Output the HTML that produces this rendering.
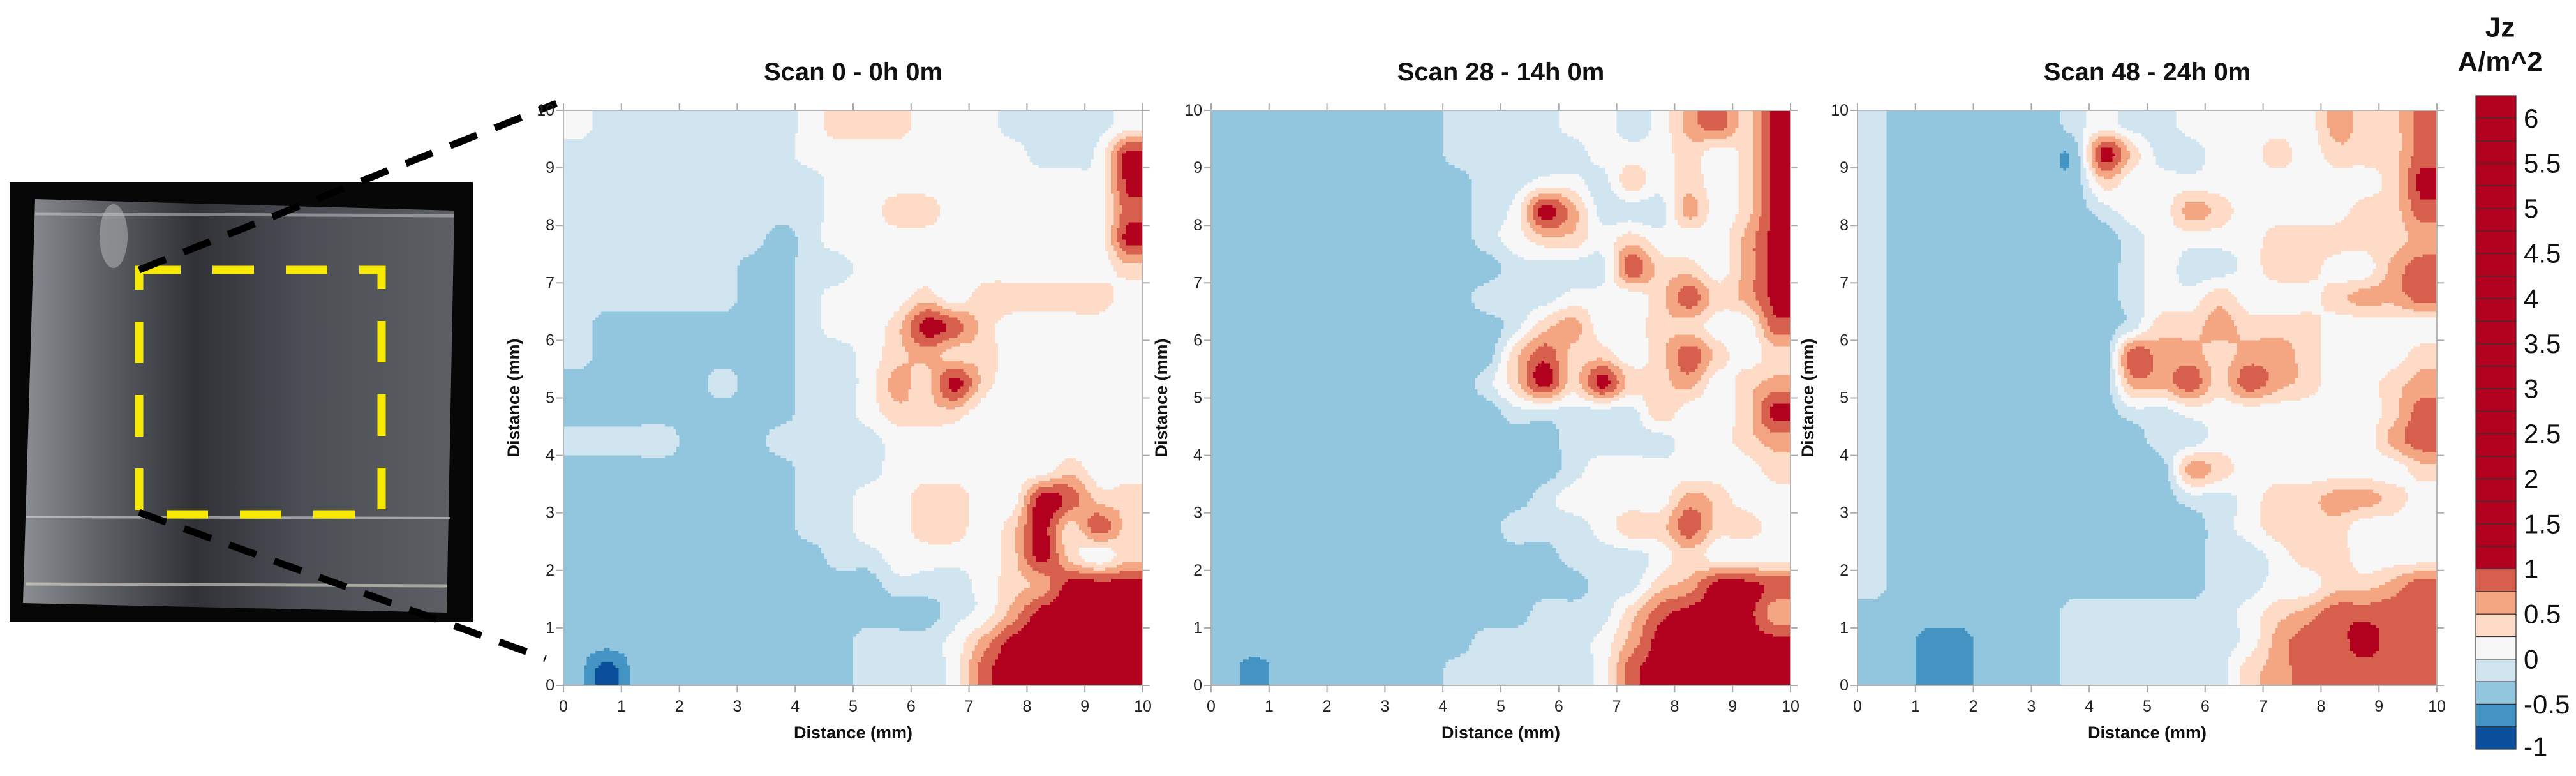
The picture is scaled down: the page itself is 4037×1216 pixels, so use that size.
<!DOCTYPE html>
<html><head><meta charset="utf-8"><style>
html,body{margin:0;padding:0;background:#fff;}
svg{display:block;font-family:"Liberation Sans",Arial,sans-serif;}
</style></head><body>
<svg id="fig" width="4037" height="1216" viewBox="0 0 4037 1216" xmlns="http://www.w3.org/2000/svg">
<defs>
<linearGradient id="acr" x1="0" y1="0" x2="1" y2="0">
<stop offset="0" stop-color="#8a8d91"/><stop offset="0.15" stop-color="#64676c"/><stop offset="0.4" stop-color="#303238"/><stop offset="0.65" stop-color="#4b4e54"/><stop offset="1" stop-color="#5c5f64"/>
</linearGradient>
</defs>
<g>
<rect x="15" y="285" width="726" height="690" fill="#070707"/>
<polygon points="55,312 712,330 700,960 36,945" fill="url(#acr)"/>
<line x1="40" y1="810" x2="705" y2="812" stroke="#d8d8d8" stroke-width="4" opacity="0.6"/>
<line x1="40" y1="915" x2="700" y2="918" stroke="#e0dccc" stroke-width="5" opacity="0.6"/>
<line x1="55" y1="335" x2="712" y2="338" stroke="#cfcfcf" stroke-width="5" opacity="0.5"/>
<ellipse cx="178" cy="370" rx="22" ry="50" fill="#bdbdbd" opacity="0.5"/>
</g>
<rect x="218" y="423" width="380" height="383" fill="none" stroke="#f7e800" stroke-width="13" stroke-dasharray="65 50"/>
<line x1="218" y1="423" x2="872" y2="162" stroke="#000" stroke-width="11" stroke-dasharray="45 30"/>
<line x1="218" y1="803" x2="855" y2="1032" stroke="#000" stroke-width="11" stroke-dasharray="45 30"/>
<g id="panels"></g>
<g id="cbar"></g>
</svg>
<script>
// ---------- data ----------
const titles = ["Scan 0 - 0h 0m", "Scan 28 - 14h 0m", "Scan 48 - 24h 0m"];
const xTicks = [0,1,2,3,4,5,6,7,8,9,10];
const yTicks = [0,1,2,3,4,5,6,7,8,9,10];
const levels = [-0.75,-0.5,-0.25,0,0.25,0.5,0.75,1];
const cbarLabels = [6,5.5,5,4.5,4,3.5,3,2.5,2,1.5,1,0.5,0,-0.5,-1];
// Jz grid (A/m^2), rows top (y=9.75mm) to bottom (y=0.25mm), columns x=0.25..9.75mm
const scan0 = [
[.1,-.1,-.1,-.1,-.1,-.1,-.1,-.1,.1,.4,.4,.4,.1,.1,.1,-.1,-.1,-.1,-.1,.1],
[-.1,-.1,-.1,-.1,-.1,-.1,-.1,-.1,.1,.1,.1,.1,.1,.1,.1,.1,-.1,-.1,.1,1.1],
[-.1,-.1,-.1,-.1,-.1,-.1,-.1,-.1,-.1,.1,.1,.1,.1,.1,.1,.1,.1,.1,.1,1.1],
[-.1,-.1,-.1,-.1,-.1,-.1,-.1,-.1,-.1,.1,.1,.4,.4,.1,.1,.1,.1,.1,.1,.9],
[-.1,-.1,-.1,-.1,-.1,-.1,-.1,-.4,-.1,.1,.1,.1,.1,.1,.1,.1,.1,.1,.1,1.1],
[-.1,-.1,-.1,-.1,-.1,-.1,-.4,-.4,-.1,-.1,.1,.1,.1,.1,.1,.1,.1,.1,.1,.4],
[-.1,-.1,-.1,-.1,-.1,-.1,-.4,-.4,-.1,.1,.1,.1,.4,.1,.4,.4,.4,.4,.4,.1],
[-.1,-.4,-.4,-.4,-.4,-.4,-.4,-.4,-.1,.1,.1,.4,1.1,.9,.4,.1,.1,.1,.1,.1],
[-.1,-.4,-.4,-.4,-.4,-.4,-.4,-.4,-.1,-.1,.1,.4,.6,.4,.4,.1,.1,.1,.1,.1],
[-.4,-.4,-.4,-.4,-.4,-.1,-.4,-.4,-.1,-.1,.1,.6,.4,1.1,.4,.1,.1,.1,.1,.1],
[-.4,-.4,-.4,-.4,-.4,-.4,-.4,-.4,-.1,-.1,.1,.4,.4,.4,.1,.1,.1,.1,.1,.1],
[-.1,-.1,-.1,-.1,-.4,-.4,-.4,-.1,-.1,-.1,-.1,.1,.1,.1,.1,.1,.1,.1,.1,.1],
[-.4,-.4,-.4,-.4,-.4,-.4,-.4,-.4,-.1,-.1,-.1,.1,.1,.1,.1,.1,.1,.4,.1,.1],
[-.4,-.4,-.4,-.4,-.4,-.4,-.4,-.4,-.1,-.1,.1,.1,.4,.4,.1,.1,1.1,.9,.4,.4],
[-.4,-.4,-.4,-.4,-.4,-.4,-.4,-.4,-.1,-.1,.1,.1,.4,.4,.1,.4,1.1,.4,.9,.4],
[-.4,-.4,-.4,-.4,-.4,-.4,-.4,-.4,-.4,-.1,-.1,.1,.1,.1,.1,.4,1.1,.4,.1,.4],
[-.4,-.4,-.4,-.4,-.4,-.4,-.4,-.4,-.4,-.4,-.4,-.1,-.1,-.1,.1,.4,.6,1.1,1.1,1.1],
[-.4,-.4,-.4,-.4,-.4,-.4,-.4,-.4,-.4,-.4,-.4,-.4,-.4,-.1,.1,.6,1.1,1.1,1.1,1.1],
[-.4,-.4,-.4,-.4,-.4,-.4,-.4,-.4,-.4,-.4,-.1,-.1,-.1,.1,.6,1.1,1.1,1.1,1.1,1.1],
[-.4,-.9,-.4,-.4,-.4,-.4,-.4,-.4,-.4,-.4,-.1,-.1,-.1,.1,.9,1.1,1.1,1.1,1.1,1.1]
];
const scan28 = [
[-.4,-.4,-.4,-.4,-.4,-.4,-.4,-.4,-.1,-.1,-.1,-.1,.1,.1,-.1,.1,.6,.9,.4,1.1],
[-.4,-.4,-.4,-.4,-.4,-.4,-.4,-.4,-.1,-.1,-.1,-.1,-.1,.1,.1,.1,.4,.1,.4,1.1],
[-.4,-.4,-.4,-.4,-.4,-.4,-.4,-.4,-.4,-.1,-.1,.1,.1,-.1,.4,.1,.4,.1,.4,1.1],
[-.4,-.4,-.4,-.4,-.4,-.4,-.4,-.4,-.4,-.1,.1,1.1,.6,-.1,-.1,-.1,.6,.1,.4,1.1],
[-.4,-.4,-.4,-.4,-.4,-.4,-.4,-.4,-.4,-.1,.1,.4,.4,.1,.4,.1,.1,.1,.6,1.1],
[-.4,-.4,-.4,-.4,-.4,-.4,-.4,-.4,-.4,-.4,-.1,-.1,-.1,-.1,.9,.4,.4,.1,.6,1.1],
[-.4,-.4,-.4,-.4,-.4,-.4,-.4,-.4,-.4,-.1,-.1,-.1,.1,.1,.1,.4,.9,.4,.6,1.1],
[-.4,-.4,-.4,-.4,-.4,-.4,-.4,-.4,-.4,-.4,-.1,.4,.6,.1,.1,.4,.4,.1,.1,.9],
[-.4,-.4,-.4,-.4,-.4,-.4,-.4,-.4,-.4,-.4,.4,.9,.4,.4,.1,.4,.9,.4,.1,.4],
[-.4,-.4,-.4,-.4,-.4,-.4,-.4,-.4,-.4,-.1,.4,1.1,.4,1.1,.4,.4,.6,.1,.4,.6],
[-.4,-.4,-.4,-.4,-.4,-.4,-.4,-.4,-.4,-.4,-.1,-.1,-.1,-.1,-.1,.4,.1,.1,.4,1.1],
[-.4,-.4,-.4,-.4,-.4,-.4,-.4,-.4,-.4,-.4,-.4,-.4,-.1,-.1,-.1,-.1,.1,.1,.4,.6],
[-.4,-.4,-.4,-.4,-.4,-.4,-.4,-.4,-.4,-.4,-.4,-.4,-.1,.1,.1,.1,.1,.1,.1,.4],
[-.4,-.4,-.4,-.4,-.4,-.4,-.4,-.4,-.4,-.4,-.4,-.1,.1,.1,.1,.1,.6,.4,.1,.1],
[-.4,-.4,-.4,-.4,-.4,-.4,-.4,-.4,-.4,-.4,-.1,-.1,-.1,.1,.4,.4,.9,.4,.4,.1],
[-.4,-.4,-.4,-.4,-.4,-.4,-.4,-.4,-.4,-.4,-.4,-.4,-.1,-.1,-.1,.1,.4,.1,.1,.1],
[-.4,-.4,-.4,-.4,-.4,-.4,-.4,-.4,-.4,-.4,-.4,-.4,-.4,-.1,-.1,.4,.6,1.1,1.1,.9],
[-.4,-.4,-.4,-.4,-.4,-.4,-.4,-.4,-.4,-.4,-.4,-.1,-.1,-.1,.4,.9,1.1,1.1,1.1,.6],
[-.4,-.4,-.4,-.4,-.4,-.4,-.4,-.4,-.4,-.1,-.1,-.1,-.1,.1,.6,1.1,1.1,1.1,1.1,1.1],
[-.4,-.6,-.4,-.4,-.4,-.4,-.4,-.4,-.1,-.1,-.1,-.1,-.1,.1,.9,1.1,1.1,1.1,1.1,1.1]
];
const scan48 = [
[-.1,-.4,-.4,-.4,-.4,-.4,-.4,-.1,.1,-.1,-.1,.1,.1,.1,.1,.1,.6,.4,.4,.9],
[-.1,-.4,-.4,-.4,-.4,-.4,-.4,-.4,1.1,.4,-.1,-.1,.1,.1,.4,.1,.4,.4,.4,.9],
[-.1,-.4,-.4,-.4,-.4,-.4,-.4,-.4,.4,.1,.1,.1,.1,.1,.1,.1,.1,.1,.4,1.1],
[-.1,-.4,-.4,-.4,-.4,-.4,-.4,-.4,-.1,.1,.1,.6,.4,.1,.1,.1,.1,.4,.4,.9],
[-.1,-.4,-.4,-.4,-.4,-.4,-.4,-.4,-.4,-.1,.1,.1,.1,.1,.4,.4,.4,.4,.4,.6],
[-.1,-.4,-.4,-.4,-.4,-.4,-.4,-.4,-.4,-.1,.1,-.1,-.1,.1,.4,.4,.1,.1,.6,.9],
[-.1,-.4,-.4,-.4,-.4,-.4,-.4,-.4,-.4,-.1,.1,.1,.4,.1,.1,.1,.4,.6,.6,.9],
[-.1,-.4,-.4,-.4,-.4,-.4,-.4,-.4,-.4,-.1,.4,.4,.6,.4,.4,.4,.1,.1,.1,.1],
[-.1,-.4,-.4,-.4,-.4,-.4,-.4,-.4,-.4,.9,.6,.6,.4,.6,.6,.4,.1,.1,.1,.4],
[-.1,-.4,-.4,-.4,-.4,-.4,-.4,-.4,-.4,.6,.6,.9,.4,.9,.6,.4,.1,.1,.4,.6],
[-.1,-.4,-.4,-.4,-.4,-.4,-.4,-.4,-.4,-.1,-.1,.1,.1,.1,.1,.1,.1,.1,.4,.9],
[-.1,-.4,-.4,-.4,-.4,-.4,-.4,-.4,-.4,-.4,-.1,-.1,.1,.1,.1,.1,.1,.1,.6,.9],
[-.1,-.4,-.4,-.4,-.4,-.4,-.4,-.4,-.4,-.4,-.4,.6,.4,.1,.1,.1,.1,.1,.1,.4],
[-.1,-.4,-.4,-.4,-.4,-.4,-.4,-.4,-.4,-.4,-.4,-.1,-.1,.1,.4,.4,.6,.6,.4,.1],
[-.1,-.4,-.4,-.4,-.4,-.4,-.4,-.4,-.4,-.4,-.4,-.4,-.1,.1,.4,.4,.4,.1,.1,.1],
[-.1,-.4,-.4,-.4,-.4,-.4,-.4,-.4,-.4,-.4,-.4,-.4,-.1,-.1,.1,.4,.4,.1,.1,.1],
[-.1,-.4,-.4,-.4,-.4,-.4,-.4,-.4,-.4,-.4,-.4,-.4,-.1,-.1,.1,.1,.4,.4,.6,.9],
[-.4,-.4,-.4,-.4,-.4,-.4,-.4,-.1,-.1,-.1,-.1,-.1,-.1,.1,.4,.6,.9,.9,.9,.9],
[-.4,-.4,-.6,-.6,-.4,-.4,-.4,-.1,-.1,-.1,-.1,-.1,-.1,.1,.6,.9,.9,1.1,.9,.9],
[-.4,-.4,-.6,-.6,-.4,-.4,-.4,-.1,-.1,-.1,-.1,-.1,-.1,.4,.6,.9,.9,.9,.9,.9]
];
const grids = [scan0, scan28, scan48];

// ---------- layout ----------
const NS = "http://www.w3.org/2000/svg";
const colors = ["#0b4f9c","#4393c3","#92c5de","#d1e5f0","#f7f7f7","#fddbc7","#f4a582","#d6604d","#b2001f"];
const panelLeft = [883, 1898, 2911];
const PT = 173, PW = 908, PH = 901;
function mk(tag, attrs, parent){const e=document.createElementNS(NS,tag);for(const k in attrs)e.setAttribute(k,attrs[k]);parent.appendChild(e);return e;}
function levelIndex(v){let i=0;while(i<levels.length&&v>=levels[i])i++;return i;}
function cr(p0,p1,p2,p3,t){return 0.5*((2*p1)+(-p0+p2)*t+(2*p0-5*p1+4*p2-p3)*t*t+(-p0+3*p1-3*p2+p3)*t*t*t);}
function sample(g, xmm, ymm){
  const ny=g.length, nx=g[0].length;
  let gx=xmm/(10/nx)-0.5, gy=(10-ymm)/(10/ny)-0.5;
  gx=Math.max(0,Math.min(nx-1,gx)); gy=Math.max(0,Math.min(ny-1,gy));
  const x0=Math.min(nx-2,Math.floor(gx)), y0=Math.min(ny-2,Math.floor(gy));
  const fx=gx-x0, fy=gy-y0;
  const cx = i => Math.max(0,Math.min(nx-1,i)), cyy = j => Math.max(0,Math.min(ny-1,j));
  const rows=[];
  for(let j=-1;j<=2;j++){
    const r=g[cyy(y0+j)];
    rows.push(cr(r[cx(x0-1)],r[cx(x0)],r[cx(x0+1)],r[cx(x0+2)],fx));
  }
  return cr(rows[0],rows[1],rows[2],rows[3],fy);
}
const panelsG = document.getElementById('panels');
grids.forEach((g, p) => {
  const L = panelLeft[p];
  const xS = v => L + v/10*PW;
  const yS = v => PT + PH - v/10*PH;
  const pg = mk('g', {}, panelsG);
  
  
  const t = mk('text', {x: L+PW/2, y: 113, 'text-anchor':'middle', 'dominant-baseline':'central', 'font-size':40, 'font-weight':'bold', fill:'#111'}, pg);
  t.textContent = titles[p];
  
  
  const field = mk('g', {'shape-rendering':'crispEdges'}, pg);
  
  
  const N = 200, step = 10/N;
  for (let iy=0; iy<N; iy++){
    const ym = 10-(iy+0.5)*step;
    let runStart=0, runLev=levelIndex(sample(g, 0.5*step, ym));
    for (let ix=1; ix<=N; ix++){
      const lev = ix<N ? levelIndex(sample(g, (ix+0.5)*step, ym)) : -1;
      if (lev!==runLev){
        const x1=xS(runStart*step), x2=xS(ix*step), y1=yS(10-iy*step), y2=yS(10-(iy+1)*step);
        const r = mk('rect', {x:x1.toFixed(1), y:y1.toFixed(1), width:(x2-x1+0.6).toFixed(1), height:(y2-y1+0.6).toFixed(1), fill:colors[runLev]}, field);
        
        
        runStart=ix; runLev=lev;
      }
    }
  }
  mk('rect', {x:L, y:PT, width:PW, height:PH, fill:'none', stroke:'#b5b5b5', 'stroke-width':2}, pg);
  xTicks.forEach(v => {
    const x = xS(v);
    mk('line', {x1:x, y1:PT+PH, x2:x, y2:PT+PH+11, stroke:'#aaa', 'stroke-width':2}, pg);
    mk('line', {x1:x, y1:PT, x2:x, y2:PT-11, stroke:'#aaa', 'stroke-width':2}, pg);
    const tl = mk('text', {x:x, y:PT+PH+33, 'text-anchor':'middle', 'dominant-baseline':'central', 'font-size':25, fill:'#222'}, pg);
    tl.textContent = v;
    
    
  });
  yTicks.forEach(v => {
    const y = yS(v);
    mk('line', {x1:L, y1:y, x2:L-11, y2:y, stroke:'#aaa', 'stroke-width':2}, pg);
    mk('line', {x1:L+PW, y1:y, x2:L+PW+11, y2:y, stroke:'#aaa', 'stroke-width':2}, pg);
    const tl = mk('text', {x:L-14, y:y, 'text-anchor':'end', 'dominant-baseline':'central', 'font-size':25, fill:'#222'}, pg);
    tl.textContent = v;
    
    
  });
  const xt = mk('text', {x:L+PW/2, y:1148, 'text-anchor':'middle', 'dominant-baseline':'central', 'font-size':27, 'font-weight':'bold', fill:'#111'}, pg);
  xt.textContent = 'Distance (mm)';
  
  
  const yt = mk('text', {x:0, y:0, transform:`translate(${L-78},${PT+PH/2}) rotate(-90)`, 'text-anchor':'middle', 'dominant-baseline':'central', 'font-size':27, 'font-weight':'bold', fill:'#111'}, pg);
  yt.textContent = 'Distance (mm)';
  
  
});

// ---------- colorbar ----------
const cb = document.getElementById('cbar');


const CBX = 3880, CBW = 63, CBTOP = 150, CBBOT = 1174, VMIN = -1, VMAX = 6.25;
const cy = v => CBBOT - (v-VMIN)/(VMAX-VMIN)*(CBBOT-CBTOP);
for (let v=VMIN; v<VMAX-1e-9; v+=0.25){
  const r = mk('rect', {x:CBX, y:cy(v+0.25), width:CBW, height:cy(v)-cy(v+0.25), fill:colors[levelIndex(v+0.125)], stroke:'#333', 'stroke-width':1.2}, cb);
  
  
}
cbarLabels.forEach(v => {
  const t = mk('text', {x:CBX+CBW+12, y:cy(v)+(v===-1?-4:0), 'dominant-baseline':'central', 'font-size':42, fill:'#111'}, cb);
  t.textContent = v;
  
  
});
const c1 = mk('text', {x:3918, y:43, 'text-anchor':'middle', 'dominant-baseline':'central', 'font-size':44, 'font-weight':'bold', fill:'#111'}, cb);
c1.textContent = 'Jz';


const c2 = mk('text', {x:3918, y:97, 'text-anchor':'middle', 'dominant-baseline':'central', 'font-size':44, 'font-weight':'bold', fill:'#111'}, cb);
c2.textContent = 'A/m^2';


</script>
</body></html>
